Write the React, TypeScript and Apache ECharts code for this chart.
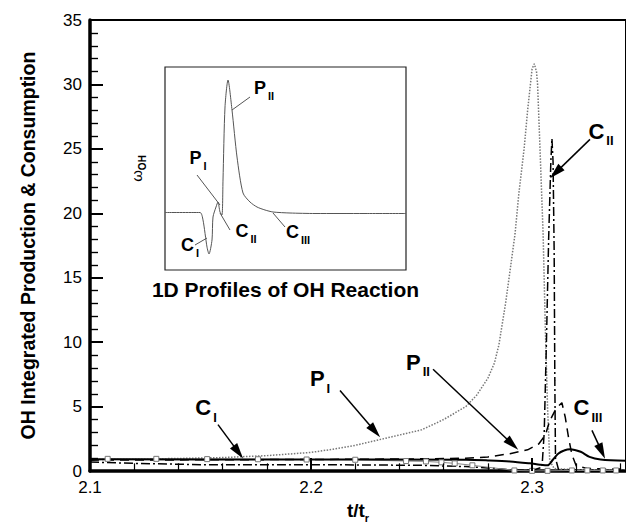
import React, { useEffect, useRef } from 'react';
import * as echarts from 'echarts';

const FONT = '"Liberation Sans", Arial, Helvetica, sans-serif';

// P_I : dotted gray curve
const dotT = [2.1, 2.12, 2.14, 2.16, 2.18, 2.2, 2.21, 2.22, 2.23, 2.24, 2.25, 2.26, 2.27, 2.275, 2.28, 2.283, 2.285, 2.288, 2.29, 2.2923, 2.294, 2.2964, 2.298, 2.3, 2.301, 2.302, 2.3025, 2.3036, 2.305, 2.306, 2.307, 2.308, 2.31, 2.32, 2.3425];
const dotV = [0.9, 0.93, 0.98, 1.05, 1.2, 1.45, 1.7, 2.0, 2.4, 2.8, 3.2, 4.0, 5.0, 5.9, 7.2, 8.4, 9.8, 13, 15.5, 18.4, 21.5, 25, 28, 31.2, 31.6, 31.0, 30, 25, 18.4, 11.1, 5, 0.8, 0.2, 0.1, 0.1];

// C_II : dash-dot curve
const ddT = [2.1, 2.12, 2.15, 2.2, 2.25, 2.27, 2.28, 2.29, 2.3, 2.3045, 2.3055, 2.3065, 2.3075, 2.3085, 2.309, 2.3095, 2.31, 2.3103, 2.3106, 2.312, 2.33, 2.3425];
const ddV = [0.7, 0.6, 0.5, 0.5, 0.45, 0.35, 0.25, 0.1, 0.05, 0.3, 3, 10, 18, 24, 25.8, 24, 17, 7, 1, 0.1, 0.05, 0.05];

// P_II : dashed curve
const dsT = [2.1, 2.2, 2.25, 2.27, 2.28, 2.29, 2.298, 2.303, 2.306, 2.308, 2.311, 2.3135, 2.315, 2.3165, 2.318, 2.32, 2.325, 2.3425];
const dsV = [0.85, 0.9, 0.95, 1.0, 1.1, 1.35, 1.65, 2.1, 2.8, 3.9, 4.9, 5.3, 4.2, 2.6, 1.3, 0.4, 0.2, 0.15];

// C_III : solid curve
const slT = [2.1, 2.2, 2.27, 2.28, 2.29, 2.299, 2.3036, 2.307, 2.3095, 2.3118, 2.3145, 2.3172, 2.322, 2.326, 2.331, 2.3425];
const slV = [0.92, 0.9, 0.88, 0.83, 0.75, 0.6, 0.5, 0.45, 0.9, 1.35, 1.6, 1.7, 1.5, 1.1, 0.9, 0.8];

// C_I : gray line with square markers
const mkT = [2.108, 2.13, 2.153, 2.176, 2.198, 2.22, 2.243, 2.252, 2.259, 2.265, 2.273, 2.292, 2.3, 2.307, 2.318, 2.325, 2.332, 2.338];
const mkV = [0.95, 0.95, 0.93, 0.92, 0.9, 0.88, 0.78, 0.75, 0.68, 0.6, 0.45, 0.05, 0.02, 0.02, 0.05, 0.05, 0.05, 0.05];

// Inset: 1D profile of omega_OH (arbitrary units)
const insetX = [0, 35, 38, 42, 44, 47, 48, 51, 53, 55, 57, 58, 60, 63, 67, 72, 78, 85, 92, 100, 108, 125, 150, 200, 241];
const insetY = [57.5, 57.5, 50, 23, 16, 30, 53, 63, 68, 58, 55, 90, 163, 190, 160, 113, 77, 68, 63, 60, 58, 57, 56.5, 56.5, 56.5];

// Main annotations: label [main, sub, x, y], arrow [x1, y1, x2, y2]
const mainLabels: [string, string, number, number][] = [
  ['C', 'I', 2.1525, 4.52],
  ['P', 'I', 2.2041, 6.77],
  ['P', 'II', 2.2484, 8.05],
  ['C', 'III', 2.3253, 4.52],
  ['C', 'II', 2.3312, 25.97],
];
const mainArrows: [number, number, number, number][] = [
  [2.1579, 3.61, 2.1671, 1.47],
  [2.2131, 6.25, 2.2289, 3.1],
  [2.2552, 7.9, 2.2911, 2.08],
  [2.3271, 3.16, 2.3315, 1.53],
  [2.3262, 25.74, 2.3107, 23.16],
];

// Inset annotations
const insetLabels: [string, string, number, number][] = [
  ['P', 'II', 99, 178],
  ['P', 'I', 33, 108],
  ['C', 'II', 81, 35],
  ['C', 'III', 133, 34],
  ['C', 'I', 25, 21],
];
const insetLeaders: [number, number, number, number][] = [
  [85, 173, 67, 160],
  [32, 95, 55, 65],
  [65, 40, 55, 57],
  [120, 43, 108, 57],
  [30, 25, 42, 32],
];

// Axis ticks
const xTickLabels = ['2.1', '2.2', '2.3'];
const xMajorTicks = [2.1, 2.2, 2.3];
const xMinorTicks = [2.12, 2.14, 2.16, 2.18, 2.22, 2.24, 2.26, 2.28, 2.32, 2.34];
const yMajorTicks = [0, 5, 10, 15, 20, 25, 30, 35];
const yMinorTicks = [1, 2, 3, 4, 6, 7, 8, 9, 11, 12, 13, 14, 16, 17, 18, 19, 21, 22, 23, 24, 26, 27, 28, 29, 31, 32, 33, 34];

const X_MIN = 2.1, X_MAX = 2.3425, Y_MIN = 0, Y_MAX = 35;
const GRID = { left: 90, top: 20, right: 0, bottom: 43 };
const CHART_W = 626, CHART_H = 528;

const zip = (a: number[], b: number[]) => a.map((v, i) => [v, b[i]]);

function labelPoints(list: [string, string, number, number][]) {
  return list.map(([m, s, x, y]) => ({
    coord: [x, y],
    label: { formatter: `{m|${m}}{s|${s}}` },
  }));
}

function tickSegments() {
  const pxPerX = (CHART_W - GRID.left - GRID.right) / (X_MAX - X_MIN);
  const pxPerY = (CHART_H - GRID.top - GRID.bottom) / (Y_MAX - Y_MIN);
  const seg = (a: number[], b: number[], w: number) => [
    { coord: a, lineStyle: { color: '#000', width: w, type: 'solid' } },
    { coord: b },
  ];
  const out: any[] = [];
  xMajorTicks.forEach((v) => out.push(seg([v, Y_MIN], [v, Y_MIN + 13 / pxPerY], 2)));
  xMinorTicks.forEach((v) => out.push(seg([v, Y_MIN], [v, Y_MIN + 8 / pxPerY], 1.2)));
  yMajorTicks.forEach((v) => out.push(seg([X_MIN, v], [X_MIN + 13 / pxPerX, v], 2)));
  yMinorTicks.forEach((v) => out.push(seg([X_MIN, v], [X_MIN + 8 / pxPerX, v], 1.2)));
  return out;
}

function buildOption() {
  const mainRich = {
    m: { fontSize: 22, fontWeight: 'bold', fontFamily: FONT, color: '#000', lineHeight: 22, padding: [0, 0, 5, 0], verticalAlign: 'bottom' },
    s: { fontSize: 13, fontWeight: 'bold', fontFamily: FONT, color: '#000', lineHeight: 13, padding: [0, 0, 0, 2], verticalAlign: 'bottom' },
  };
  const insetRich = {
    m: { fontSize: 18, fontWeight: 'bold', fontFamily: FONT, color: '#000', lineHeight: 18, padding: [0, 0, 4, 0], verticalAlign: 'bottom' },
    s: { fontSize: 11, fontWeight: 'bold', fontFamily: FONT, color: '#000', lineHeight: 11, padding: [0, 0, 0, 2], verticalAlign: 'bottom' },
  };
  return {
    animation: false,
    backgroundColor: '#fff',
    textStyle: { fontFamily: FONT },
    grid: [
      { ...GRID, show: true, borderColor: '#000', borderWidth: 2, backgroundColor: 'transparent' },
      { left: 165, top: 67, width: 241, height: 203, show: true, borderColor: '#222', borderWidth: 1.2, backgroundColor: '#fff', z: 3 },
    ],
    xAxis: [
      {
        type: 'value', gridIndex: 0, min: X_MIN, max: X_MAX, interval: 0.1,
        axisLine: { show: true, onZero: false, lineStyle: { color: '#000', width: 3.5 } },
        axisTick: { show: true, inside: true, length: 13, lineStyle: { color: '#000', width: 2 } },
        minorTick: { show: false },
        splitLine: { show: false },
        axisLabel: {
          show: true, color: '#000', fontSize: 17, fontFamily: FONT, margin: 8, showMaxLabel: false,
          formatter: (v: number) => {
            const t = v.toFixed(1);
            return xTickLabels.includes(t) && Math.abs(v - Number(t)) < 1e-6 ? t : '';
          },
        },
        name: '{b|t/t}{r|r}', nameLocation: 'middle', nameGap: 26,
        nameTextStyle: {
          padding: [0, 0, 0, 0],
          rich: {
            b: { fontSize: 19, fontWeight: 'bold', fontFamily: FONT, color: '#000', lineHeight: 19, padding: [0, 0, 3, 0], verticalAlign: 'bottom' },
            r: { fontSize: 11, fontWeight: 'bold', fontFamily: FONT, color: '#000', lineHeight: 11, verticalAlign: 'bottom' },
          },
        },
      },
      {
        type: 'value', gridIndex: 1, min: 0, max: 241,
        axisLine: { show: false }, axisTick: { show: false }, axisLabel: { show: false }, splitLine: { show: false },
        name: '1D Profiles of OH Reaction', nameLocation: 'middle', nameGap: 9,
        nameTextStyle: { fontSize: 21, fontWeight: 'bold', fontFamily: FONT, color: '#000', verticalAlign: 'top' },
      },
    ],
    yAxis: [
      {
        type: 'value', gridIndex: 0, min: Y_MIN, max: Y_MAX, interval: 5,
        axisLine: { show: true, onZero: false, lineStyle: { color: '#000', width: 3.5 } },
        axisTick: { show: true, inside: true, length: 13, lineStyle: { color: '#000', width: 2 } },
        minorTick: { show: true, splitNumber: 5, length: 8, lineStyle: { color: '#000', width: 1.2 } },
        splitLine: { show: false },
        axisLabel: { show: true, color: '#000', fontSize: 17, fontFamily: FONT, margin: 8 },
        name: 'OH Integrated Production & Consumption', nameLocation: 'middle', nameGap: 52, nameRotate: 90,
        nameTextStyle: { fontSize: 19.5, fontWeight: 'bold', fontFamily: FONT, color: '#000' },
      },
      {
        type: 'value', gridIndex: 1, min: 0, max: 203,
        axisLine: { show: false }, axisTick: { show: false }, axisLabel: { show: false }, splitLine: { show: false },
        name: '{w|ω}{s|OH}', nameLocation: 'middle', nameGap: 18, nameRotate: 90,
        nameTextStyle: {
          rich: {
            w: { fontSize: 15, fontFamily: FONT, color: '#000', lineHeight: 15, padding: [0, 0, 3, 0], verticalAlign: 'bottom' },
            s: { fontSize: 10, fontWeight: 'bold', fontFamily: FONT, color: '#000', lineHeight: 10, verticalAlign: 'bottom' },
          },
        },
      },
    ],
    series: [
      {
        name: 'PI', type: 'line', xAxisIndex: 0, yAxisIndex: 0, data: zip(dotT, dotV), showSymbol: false,
        lineStyle: { color: '#777', width: 1.5, type: [1.5, 1.5] }, z: 2,
      },
      {
        name: 'CII', type: 'line', xAxisIndex: 0, yAxisIndex: 0, data: zip(ddT, ddV), showSymbol: false,
        lineStyle: { color: '#000', width: 1.5, type: [9, 3, 2, 3] }, z: 2,
      },
      {
        name: 'PII', type: 'line', xAxisIndex: 0, yAxisIndex: 0, data: zip(dsT, dsV), showSymbol: false,
        lineStyle: { color: '#000', width: 1.5, type: [9, 6] }, z: 2,
      },
      {
        name: 'CI', type: 'line', xAxisIndex: 0, yAxisIndex: 0, data: zip(mkT, mkV),
        symbol: 'rect', symbolSize: 5, showSymbol: true, clip: false,
        itemStyle: { color: '#fff', borderColor: '#777', borderWidth: 1 },
        lineStyle: { color: '#888', width: 1 }, z: 2,
        markLine: {
          silent: true, animation: false, symbol: ['none', 'none'],
          label: { show: false },
          emphasis: { disabled: true },
          lineStyle: { color: '#000', width: 1, type: 'solid' },
          data: tickSegments(),
        },
      },
      {
        name: 'CIII', type: 'line', xAxisIndex: 0, yAxisIndex: 0, data: zip(slT, slV), showSymbol: false, smooth: 0.3,
        lineStyle: { color: '#000', width: 2 }, z: 2,
        markLine: {
          silent: true, animation: false,
          lineStyle: { color: '#000', width: 1.5, type: 'solid' },
          label: { show: false },
          emphasis: { disabled: true },
          data: mainArrows.map(([x1, y1, x2, y2]) => [
            { coord: [x1, y1], symbol: 'none' },
            { coord: [x2, y2], symbol: 'triangle', symbolSize: [9, 16] },
          ]),
        },
        markPoint: {
          silent: true, animation: false,
          symbol: 'circle', symbolSize: 1,
          itemStyle: { color: 'rgba(0,0,0,0)' },
          label: { show: true, position: 'inside', rich: mainRich },
          data: labelPoints(mainLabels),
        },
      },
      {
        name: 'inset', type: 'line', xAxisIndex: 1, yAxisIndex: 1, data: zip(insetX, insetY), showSymbol: false, smooth: 0.25,
        lineStyle: { color: '#555', width: 1 }, z: 5,
        markLine: {
          silent: true, animation: false, symbol: ['none', 'none'],
          lineStyle: { color: '#555', width: 1, type: 'solid' },
          label: { show: false },
          emphasis: { disabled: true },
          data: insetLeaders.map(([x1, y1, x2, y2]) => [{ coord: [x1, y1] }, { coord: [x2, y2] }]),
        },
        markPoint: {
          silent: true, animation: false,
          symbol: 'circle', symbolSize: 1,
          itemStyle: { color: 'rgba(0,0,0,0)' },
          label: { show: true, position: 'inside', rich: insetRich },
          data: labelPoints(insetLabels),
        },
      },
    ],
  };
}

export default function App() {
  const ref = useRef<HTMLDivElement>(null);
  useEffect(() => {
    if (!ref.current) return;
    const chart = echarts.init(ref.current, null, { renderer: 'svg' });
    chart.setOption(buildOption() as any);
    return () => chart.dispose();
  }, []);
  return (
    <div style={{ position: 'fixed', left: 0, top: 0, width: CHART_W, height: CHART_H, overflow: 'hidden', background: '#fff' }}>
      <div ref={ref} style={{ width: CHART_W, height: CHART_H }} />
    </div>
  );
}
